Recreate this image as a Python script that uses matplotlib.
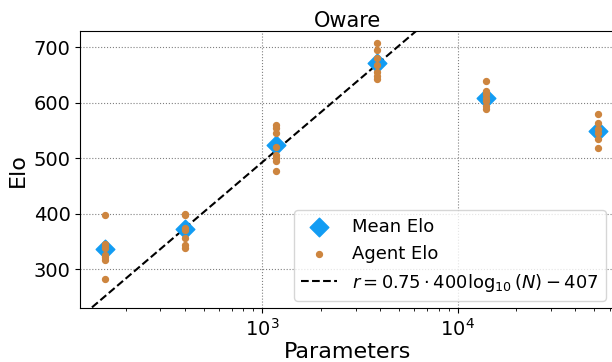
import numpy as np
import matplotlib.pyplot as plt

# parameter counts of the agents
params = [157, 401, 1181, 3877, 13930, 52000]

# individual agent Elo ratings per size
agent_elo = [
    [397, 346, 342, 338, 326, 322, 317, 283],
    [400, 397, 375, 370, 357, 343, 339],
    [559, 555, 545, 520, 505, 501, 495, 477],
    [708, 695, 680, 668, 656, 648, 643],
    [639, 621, 615, 609, 603, 594, 588],
    [579, 564, 552, 546, 534, 519],
]

mean_elo = [336, 373, 523, 671, 609, 549]

fig = plt.figure(figsize=(6.12, 3.62), dpi=100)
ax = fig.add_axes([0.131, 0.149, 0.875, 0.765])

xs = np.logspace(np.log10(110), np.log10(70000), 200)
ax.plot(xs, 0.75 * 400 * np.log10(xs) - 407, 'k--', lw=1.5,
        label=r'$r = 0.75 \cdot 400 \log_{10}(N) - 407$', zorder=2)
ax.scatter(params, mean_elo, marker='D', s=90, color='#129cf3',
           label='Mean Elo', zorder=3)
for p, elos in zip(params, agent_elo):
    ax.scatter([p] * len(elos), elos, s=18, color='#cd853f', zorder=4,
               label='Agent Elo' if p == params[0] else None)

ax.set_xscale('log')
ax.set_xlim(116.7, 64400)
ax.set_ylim(230, 729)
ax.set_yticks([300, 400, 500, 600, 700])
ax.grid(True, which='major', ls=':', color='gray', lw=0.8)
ax.tick_params(labelsize=14)
ax.set_xlabel('Parameters', fontsize=16, labelpad=2)
ax.set_ylabel('Elo', fontsize=16)
ax.set_title('Oware', fontsize=15, pad=3)

h, l = ax.get_legend_handles_labels()
order = [1, 2, 0]
ax.legend([h[i] for i in order], [l[i] for i in order], loc='lower right',
          fontsize=13, borderaxespad=0.4, bbox_to_anchor=(0.995, 0.0))

fig.savefig('out.png', dpi=100)
